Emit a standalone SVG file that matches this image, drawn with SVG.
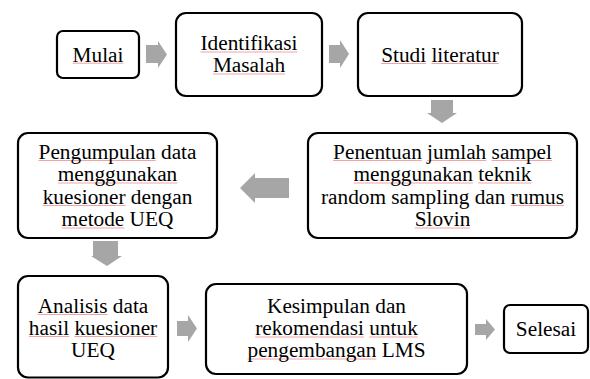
<svg xmlns="http://www.w3.org/2000/svg" width="590" height="379" viewBox="0 0 590 379">
<style>
.box{fill:#fff;stroke:#000;stroke-width:2.2}
.t{font-family:'Liberation Serif','Times New Roman',serif;font-size:21.3px;fill:#000;text-anchor:middle}
.arr{fill:#a6a6a6}
.sq{fill:#f3a3a3}
</style>
<rect width="590" height="379" fill="#fff"/>
<g id="connectors">
<path class="arr" d="M146,45H158V41L167,54.5L158,68V63H146Z"/>
<path class="arr" d="M329,45H340V40L349,54L340,68V63H329Z"/>
<path class="arr" d="M431,100H453V113H457L442,123L427,113H431Z"/>
<path class="arr" d="M289,178H255V173L240,188L255,203V198H289Z"/>
<path class="arr" d="M93,241H118V256H122L107,266L91,256H93Z"/>
<path class="arr" d="M177,321H188V315L197,328.5L188,342V336H177Z"/>
<path class="arr" d="M475,324H486V319L495,329.5L486,340V335H475Z"/>
</g>
<g id="mulai"><rect class="box" x="57" y="31" width="82" height="47" rx="6"/>
<rect class="sq" x="72.6" y="62.7" width="50.8" height="1"/>
<text class="t" font-family="'Liberation Serif','Times New Roman',serif" font-size="21.3" x="98" y="61.5">Mulai</text></g>
<g id="identifikasi"><rect class="box" x="176" y="13" width="146" height="83" rx="10"/>
<rect class="sq" x="200.5" y="51.5" width="97" height="1"/>
<rect class="sq" x="212.9" y="73.5" width="72.2" height="1"/>
<text class="t" font-family="'Liberation Serif','Times New Roman',serif" font-size="21.3" x="249" y="50">Identifikasi</text>
<text class="t" font-family="'Liberation Serif','Times New Roman',serif" font-size="21.3" x="249" y="72">Masalah</text></g>
<g id="studi"><rect class="box" x="358" y="13" width="164" height="83" rx="10"/>
<rect class="sq" x="381.2" y="63" width="44.9" height="1"/>
<rect class="sq" x="431.4" y="63" width="67.4" height="1"/>
<text class="t" font-family="'Liberation Serif','Times New Roman',serif" font-size="21.3" x="440" y="61.5">Studi literatur</text></g>
<g id="penentuan"><rect class="box" x="308" y="133" width="269" height="105" rx="10"/>
<rect class="sq" x="333.1" y="160" width="88.7" height="1"/>
<rect class="sq" x="427.1" y="160" width="59.2" height="1"/>
<rect class="sq" x="491.6" y="160" width="60.3" height="1"/>
<rect class="sq" x="353.5" y="182.5" width="119.4" height="1"/>
<rect class="sq" x="478.2" y="182.5" width="53.3" height="1"/>
<rect class="sq" x="510.8" y="205" width="53.3" height="1"/>
<rect class="sq" x="414.7" y="227.5" width="55.6" height="1"/>
<text class="t" font-family="'Liberation Serif','Times New Roman',serif" font-size="21.3" x="442.5" y="158.5">Penentuan jumlah sampel</text>
<text class="t" font-family="'Liberation Serif','Times New Roman',serif" font-size="21.3" x="442.5" y="181">menggunakan teknik</text>
<text class="t" font-family="'Liberation Serif','Times New Roman',serif" font-size="21.3" x="442.5" y="203.5">random sampling dan rumus</text>
<text class="t" font-family="'Liberation Serif','Times New Roman',serif" font-size="21.3" x="442.5" y="226">Slovin</text></g>
<g id="pengumpulan"><rect class="box" x="18" y="133" width="199" height="105" rx="10"/>
<rect class="sq" x="38.5" y="160" width="117.2" height="1"/>
<rect class="sq" x="57.8" y="182.5" width="119.5" height="1"/>
<rect class="sq" x="42.7" y="205" width="82.8" height="1"/>
<rect class="sq" x="61.6" y="227.5" width="62.7" height="1"/>
<text class="t" font-family="'Liberation Serif','Times New Roman',serif" font-size="21.3" x="117.5" y="158.5">Pengumpulan data</text>
<text class="t" font-family="'Liberation Serif','Times New Roman',serif" font-size="21.3" x="117.5" y="181">menggunakan</text>
<text class="t" font-family="'Liberation Serif','Times New Roman',serif" font-size="21.3" x="117.5" y="203.5">kuesioner dengan</text>
<text class="t" font-family="'Liberation Serif','Times New Roman',serif" font-size="21.3" x="117.5" y="226">metode UEQ</text></g>
<g id="analisis"><rect class="box" x="18" y="276" width="150" height="101.5" rx="10"/>
<rect class="sq" x="37.7" y="314" width="69.8" height="1"/>
<rect class="sq" x="28.9" y="336" width="40.2" height="1"/>
<rect class="sq" x="74.4" y="336" width="82.8" height="1"/>
<text class="t" font-family="'Liberation Serif','Times New Roman',serif" font-size="21.3" x="93" y="312.5">Analisis data</text>
<text class="t" font-family="'Liberation Serif','Times New Roman',serif" font-size="21.3" x="93" y="334.5">hasil kuesioner</text>
<text class="t" font-family="'Liberation Serif','Times New Roman',serif" font-size="21.3" x="93" y="356.5">UEQ</text></g>
<g id="kesimpulan"><rect class="box" x="206" y="284" width="261" height="90" rx="10"/>
<rect class="sq" x="255.2" y="336.5" width="108.8" height="1"/>
<rect class="sq" x="369.3" y="336.5" width="48.5" height="1"/>
<rect class="sq" x="247.5" y="358.5" width="128.9" height="1"/>
<text class="t" font-family="'Liberation Serif','Times New Roman',serif" font-size="21.3" x="336.5" y="313">Kesimpulan dan</text>
<text class="t" font-family="'Liberation Serif','Times New Roman',serif" font-size="21.3" x="336.5" y="335">rekomendasi untuk</text>
<text class="t" font-family="'Liberation Serif','Times New Roman',serif" font-size="21.3" x="336.5" y="357">pengembangan LMS</text></g>
<g id="selesai"><rect class="box" x="504" y="305" width="84" height="48" rx="6"/>
<text class="t" font-family="'Liberation Serif','Times New Roman',serif" font-size="21.3" x="546" y="335.5">Selesai</text></g>
</svg>
